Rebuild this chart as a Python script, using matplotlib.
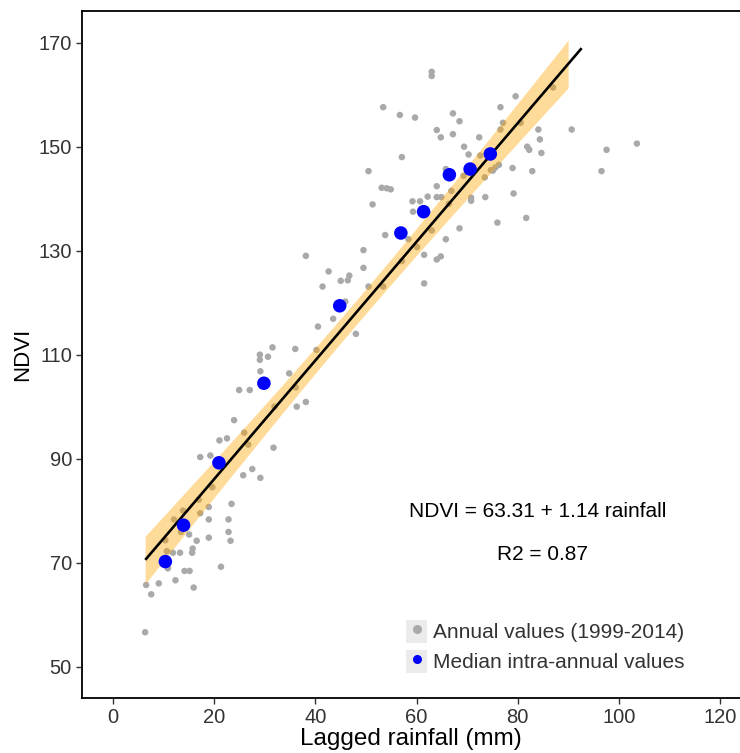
import numpy as np
import matplotlib
matplotlib.use("Agg")
import matplotlib.pyplot as plt
from matplotlib.lines import Line2D
from matplotlib.patches import Patch
from matplotlib.legend_handler import HandlerTuple

plt.rcParams['font.family'] = ['Liberation Sans', 'DejaVu Sans']

# Annual values (1999-2014): lagged rainfall (mm), NDVI
annual_rain = [53.4, 56.7, 57.1, 50.5, 53.1, 54.1, 54.9, 51.3, 53.8, 38.1, 49.5, 42.6, 46.7, 46.4, 45.0,
               49.5, 41.4, 50.5, 53.4, 57.1, 45.9, 43.5, 40.5, 48.0, 31.5, 36.0, 29.0, 30.6, 40.2,
               63.0, 63.0, 79.6, 76.6, 59.7, 67.2, 68.5, 77.1, 80.6, 87.0, 64.0, 67.2, 64.8, 76.6, 72.4,
               84.1, 90.7, 84.4, 81.9, 82.3, 84.7, 103.6, 97.6, 96.6, 69.4, 70.3, 72.6, 76.3, 75.6, 75.1,
               74.7, 79.0, 82.9, 73.5, 69.3, 65.8, 64.0, 66.9, 59.2, 60.7, 62.2, 64.0, 64.9, 59.3, 66.4,
               70.8, 70.8, 73.6, 79.2, 76.0, 81.7, 68.5, 63.0, 65.8, 61.5, 64.0, 64.8, 60.1, 58.4, 61.5,
               29.0, 29.1, 34.8, 24.9, 27.0, 36.3, 38.1, 36.1, 31.9, 23.9, 25.9, 26.7, 31.7, 21.0, 22.5,
               17.2, 19.2, 25.7, 27.5, 29.1, 19.6, 16.9, 23.4, 18.9, 17.2, 18.9, 22.8, 13.8, 12.0, 15.0,
               16.5, 18.9, 22.8, 23.2, 13.4, 10.3, 10.6, 11.8, 13.2, 15.7, 15.6, 10.8, 14.1, 15.1, 21.3,
               6.5, 9.0, 7.5, 12.3, 15.9, 6.3]
annual_ndvi = [157.6, 156.1, 148.0, 145.3, 142.1, 142.0, 141.8, 138.9, 133.0, 129.0, 130.1, 126.0, 125.2, 124.3, 124.2,
               126.7, 123.1, 123.1, 123.1, 128.0, 120.2, 116.9, 115.4, 114.0, 111.4, 111.1, 110.0, 109.6, 110.9,
               164.4, 163.6, 159.7, 157.6, 155.6, 156.4, 154.9, 154.6, 154.6, 161.4, 153.2, 152.4, 151.8, 153.3, 151.8,
               153.3, 153.3, 151.4, 150.0, 149.4, 148.8, 150.6, 149.4, 145.3, 150.0, 148.5, 148.3, 146.5, 146.0, 145.4,
               145.5, 145.9, 145.3, 144.1, 144.4, 145.7, 142.4, 141.5, 139.5, 139.5, 140.4, 140.3, 140.3, 137.5, 139.0,
               140.2, 139.6, 140.3, 141.0, 135.4, 136.3, 134.3, 133.9, 132.2, 129.2, 128.3, 128.9, 130.7, 132.2, 123.7,
               109.0, 106.8, 106.4, 103.2, 103.2, 100.0, 100.9, 103.7, 100.0, 97.4, 95.0, 92.7, 92.1, 93.5, 93.9,
               90.3, 90.6, 86.8, 88.0, 86.3, 84.5, 82.1, 81.3, 80.7, 79.5, 78.3, 78.3, 80.0, 78.3, 75.4,
               74.2, 74.8, 75.9, 74.2, 75.9, 74.3, 72.2, 71.9, 71.9, 72.7, 71.9, 68.9, 68.4, 68.4, 69.2,
               65.7, 66.0, 63.9, 66.6, 65.2, 56.6]

# Median intra-annual values
median_rain = [10.3, 13.9, 20.9, 29.8, 44.8, 56.9, 61.4, 66.5, 70.6, 74.6]
median_ndvi = [70.2, 77.2, 89.2, 104.5, 119.4, 133.4, 137.5, 144.6, 145.7, 148.6]

# Regression
intercept = 63.31
slope = 1.14
r2 = 0.87
line_range = [6.5, 92.5]
band_range = [6.3, 90.0]

xticks = [0, 20, 40, 60, 80, 100, 120]
yticks = [50, 70, 90, 110, 130, 150, 170]

fig = plt.figure(figsize=(7.40, 7.53), dpi=100)
ax = fig.add_axes([81.7 / 740, 1 - 698.3 / 753, 1 - 81.7 / 740, (698.3 - 11) / 753])

ax.scatter(annual_rain, annual_ndvi, s=22, color='#A9A9A9', edgecolors='none', zorder=2)

# confidence band from the data
xa = np.asarray(annual_rain)
ya = np.asarray(annual_ndvi)
n = len(xa)
res = ya - (intercept + slope * xa)
s = np.sqrt(np.sum(res ** 2) / (n - 2))
sxx = np.sum((xa - xa.mean()) ** 2)
bx = np.linspace(band_range[0], band_range[1], 100)
fit = intercept + slope * bx
se = s * np.sqrt(1 / n + (bx - xa.mean()) ** 2 / sxx) * 1.96 * 1.25
ax.fill_between(bx, fit - se, fit + se, color='orange', alpha=0.4, linewidth=0, zorder=3)

lx = np.array(line_range)
ax.plot(lx, intercept + slope * lx, color='black', linewidth=1.9, zorder=4)

ax.scatter(median_rain, median_ndvi, s=95, color='#0000FF', edgecolors='none', zorder=5)

ax.set_xlim(-6.25, 124)
ax.set_ylim(43.9, 176.1)
ax.set_xticks(xticks)
ax.set_yticks(yticks)
ax.tick_params(axis='both', labelsize=14.5, labelcolor='#333333', color='#333333',
               length=4, width=1, pad=3)
for side in ['left', 'bottom', 'top']:
    ax.spines[side].set_linewidth(1.3)
    ax.spines[side].set_color('black')
ax.spines['right'].set_visible(False)

ax.set_xlabel('Lagged rainfall (mm)', fontsize=17.5, labelpad=0.5)
ax.set_ylabel('NDVI', fontsize=16, labelpad=4)

ax.text(84, 79.8, f'NDVI = {intercept:.2f} + {slope:.2f} rainfall', fontsize=15,
        ha='center', va='center', color='black')
ax.text(85, 71.5, f'R2 = {r2:.2f}', fontsize=15, ha='center', va='center', color='black')

key_bg = '#EBEBEB'
h1 = (Patch(facecolor=key_bg, edgecolor='none'),
      Line2D([], [], marker='o', linestyle='none', markersize=5.5, color='#A9A9A9'))
h2 = (Patch(facecolor=key_bg, edgecolor='none'),
      Line2D([], [], marker='o', linestyle='none', markersize=5.5, color='#0000FF'))
leg = ax.legend([h1, h2], ['Annual values (1999-2014)', 'Median intra-annual values'],
                handler_map={tuple: HandlerTuple(ndivide=1, pad=0)},
                loc='upper left', bbox_to_anchor=(0.493, 0.114), frameon=False,
                fontsize=15, handlelength=1.0, handleheight=1.3, handletextpad=0.3,
                labelspacing=0.35, borderpad=0, borderaxespad=0)
for t in leg.get_texts():
    t.set_color('#333333')

fig.savefig('out.png', dpi=100)
